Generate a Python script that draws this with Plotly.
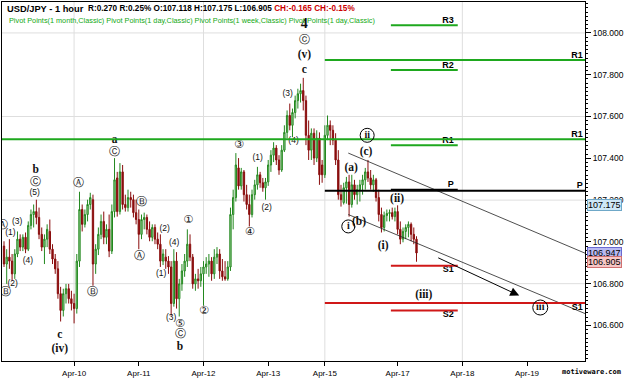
import plotly.graph_objects as go

# ---------------- data ----------------
OPEN = [106.980,106.894,106.927,106.908,106.847,106.942,107.013,106.975,107.022,106.965,
        107.079,107.131,107.145,107.117,107.036,106.975,107.013,107.050,106.965,106.918,
        106.871,106.752,106.672,106.752,106.776,106.728,106.705,106.681,106.908,107.155,
        107.084,107.131,107.179,107.202,106.894,106.965,107.036,107.098,107.022,107.060,
        106.956,107.145,107.306,107.145,107.335,107.179,107.164,107.212,107.202,107.140,
        107.107,107.036,107.107,107.117,107.060,107.022,107.069,107.013,106.989,106.908,
        106.927,106.908,106.880,106.705,106.908,106.728,106.799,106.861,106.908,106.989,
        106.927,106.799,106.823,106.814,106.847,106.880,106.894,106.908,106.847,106.927,
        106.942,106.861,106.833,106.823,106.880,107.131,107.212,107.354,107.268,107.335,
        107.226,107.179,107.131,107.226,107.273,107.321,107.283,107.259,107.287,107.368,
        107.415,107.449,107.392,107.344,107.439,107.524,107.605,107.558,107.619,107.676,
        107.709,107.724,107.676,107.510,107.439,107.520,107.401,107.496,107.368,107.321,
        107.510,107.558,107.534,107.487,107.392,107.226,107.188,107.259,107.287,107.179,
        107.273,107.226,107.250,107.273,107.297,107.335,107.306,107.273,107.297,107.212,
        107.131,107.069,107.126,107.136,107.140,107.121,107.145,107.060,107.013,107.050,
        107.069,107.084,107.036,107.013]
HIGH = [107.003,106.965,107.013,106.942,106.965,107.050,107.036,107.036,107.045,107.098,
        107.155,107.179,107.202,107.164,107.069,107.036,107.084,107.107,106.989,106.942,
        106.908,106.785,106.776,106.799,106.799,106.766,106.752,106.942,107.240,107.179,
        107.155,107.202,107.235,107.226,106.989,107.069,107.131,107.145,107.084,107.131,
        107.179,107.401,107.335,107.377,107.368,107.226,107.250,107.240,107.226,107.202,
        107.155,107.131,107.140,107.131,107.098,107.084,107.084,107.045,107.036,106.965,
        106.965,106.932,106.908,106.965,106.951,106.823,106.894,106.942,107.060,107.036,
        106.942,106.847,106.871,106.880,106.908,106.927,106.942,106.927,106.965,106.975,
        106.965,106.918,106.908,106.908,107.164,107.250,107.425,107.401,107.354,107.344,
        107.273,107.226,107.250,107.297,107.359,107.335,107.306,107.306,107.392,107.439,
        107.477,107.463,107.415,107.463,107.558,107.629,107.662,107.638,107.700,107.733,
        107.757,107.785,107.700,107.581,107.543,107.543,107.534,107.524,107.392,107.558,
        107.605,107.581,107.558,107.520,107.439,107.273,107.283,107.311,107.321,107.321,
        107.297,107.273,107.297,107.321,107.354,107.392,107.344,107.321,107.306,107.250,
        107.164,107.145,107.155,107.155,107.164,107.164,107.175,107.098,107.069,107.084,
        107.098,107.093,107.069,107.027]
LOW = [106.880,106.799,106.871,106.814,106.823,106.927,106.956,106.956,106.946,106.956,
       107.060,107.069,107.084,107.013,106.956,106.894,106.975,106.942,106.894,106.847,
       106.728,106.619,106.643,106.705,106.705,106.672,106.610,106.657,106.880,107.050,
       107.069,107.098,107.155,106.790,106.847,106.937,107.013,106.989,106.989,106.927,
       106.942,107.117,107.121,107.131,107.155,107.145,107.145,107.164,107.117,107.084,
       106.965,107.013,107.060,107.036,107.003,107.003,106.989,106.965,106.880,106.889,
       106.871,106.847,106.647,106.690,106.681,106.643,106.766,106.833,106.880,106.908,
       106.776,106.766,106.776,106.785,106.695,106.847,106.833,106.814,106.823,106.894,
       106.823,106.814,106.814,106.814,106.861,107.060,107.193,107.250,107.250,107.193,
       107.155,107.074,107.117,107.202,107.250,107.259,107.240,107.202,107.268,107.335,
       107.382,107.368,107.321,107.335,107.430,107.496,107.534,107.501,107.591,107.638,
       107.667,107.629,107.463,107.392,107.392,107.368,107.382,107.273,107.283,107.306,
       107.487,107.463,107.463,107.368,107.202,107.169,107.179,107.183,107.121,107.164,
       107.202,107.179,107.193,107.226,107.250,107.287,107.250,107.240,107.193,107.098,
       107.045,107.050,107.098,107.098,107.107,107.098,107.036,106.989,106.998,107.013,
       107.022,107.003,106.989,106.905]
CLOSE = [106.894,106.927,106.908,106.847,106.942,107.013,106.975,107.022,106.965,107.079,
         107.131,107.145,107.117,107.036,106.975,107.013,107.060,106.965,106.918,106.871,
         106.752,106.672,106.752,106.776,106.728,106.705,106.681,106.908,107.155,107.084,
         107.131,107.179,107.212,106.894,106.965,107.036,107.098,107.022,107.060,106.956,
         107.145,107.297,107.145,107.335,107.179,107.164,107.212,107.202,107.140,107.107,
         107.036,107.107,107.117,107.060,107.022,107.069,107.013,106.989,106.908,106.942,
         106.908,106.880,106.705,106.908,106.728,106.799,106.861,106.908,106.989,106.927,
         106.799,106.823,106.814,106.847,106.880,106.894,106.908,106.847,106.927,106.942,
         106.861,106.833,106.823,106.880,107.131,107.212,107.368,107.268,107.335,107.226,
         107.179,107.131,107.226,107.273,107.321,107.283,107.259,107.287,107.368,107.415,
         107.449,107.392,107.344,107.439,107.524,107.605,107.558,107.619,107.676,107.709,
         107.724,107.676,107.510,107.439,107.520,107.401,107.496,107.321,107.321,107.510,
         107.558,107.534,107.487,107.392,107.226,107.202,107.259,107.287,107.179,107.273,
         107.226,107.250,107.273,107.297,107.335,107.306,107.273,107.297,107.212,107.131,
         107.069,107.126,107.136,107.140,107.121,107.145,107.060,107.013,107.050,107.069,
         107.084,107.036,107.013,106.947]
BARS = list(range(len(CLOSE)))

TICK_POS = [26, 50, 74, 98, 119, 146, 170, 194]
TICK_LABELS = ["Apr-10", "Apr-11", "Apr-12", "Apr-13", "Apr-15", "Apr-17", "Apr-18", "Apr-19"]
GRID_X = [26, 74, 119, 170]
GRID_Y = [106.8, 107.2, 107.6, 108.0]
X_RANGE = [-0.74, 215.5]
Y_RANGE = [106.43, 108.148]

# pivot levels
MONTH_R1 = 107.491
WEEK_START = 119
WEEK_LEVELS = {"R1": 107.871, "P": 107.245, "S1": 106.708}
DAY_START, DAY_END = 143.5, 168.3
DAY_LEVELS = {"R3": 108.037, "R2": 107.823, "R1": 107.462, "P": 107.250, "S1": 106.886, "S2": 106.672}

# trend channel + arrow
UPPER_LINE = ([127.7, 215.5], [107.425, 106.946])
LOWER_LINE = ([127.7, 215.5], [107.131, 106.657])
ARROW_TAIL = (160.5, 106.927)
ARROW_HEAD = (191.1, 106.743)

# wave labels
PAREN_LABELS = [("(1)", 2.4, 107.045), ("(2)", 3.2, 106.799), ("(3)", 4.9, 107.098),
                ("(4)", 8.9, 106.908), ("(5)", 11.4, 107.235), ("(2)", 59.6, 107.060),
                ("(4)", 63.1, 106.994), ("(1)", 58.3, 106.847), ("(3)", 62.0, 106.634),
                ("(1)", 94.1, 107.401), ("(2)", 97.4, 107.164), ("(3)", 105.2, 107.709),
                ("(4)", 107.4, 107.482)]
CIRCLED_LABELS = [("Ⓐ", -0.4, 107.080), ("Ⓑ", 0.7, 106.761), ("Ⓒ", 11.8, 107.287),
                  ("Ⓐ", 27.7, 107.283), ("Ⓑ", 32.8, 106.761), ("Ⓒ", 41.0, 107.430),
                  ("Ⓑ", 50.9, 107.188), ("Ⓐ", 50.2, 106.932), ("①", 68.3, 107.103),
                  ("⑤", 65.3, 106.605), ("Ⓒ", 65.3, 106.558), ("②", 74.2, 106.667),
                  ("③", 87.1, 107.463), ("④", 91.1, 107.045), ("ⓒ", 111.4, 107.965)]
SERIF_LABELS = [("b", 11.8, 107.344), ("c", 20.7, 106.553), ("(iv)", 20.7, 106.487),
                ("a", 41.0, 107.487), ("b", 65.3, 106.496), ("c", 111.4, 107.823),
                ("(v)", 111.4, 107.894), ("(c)", 134.3, 107.430), ("(a)", 128.8, 107.354),
                ("(b)", 131.7, 107.093), ("(ii)", 145.8, 107.207), ("(i)", 140.6, 106.979),
                ("(iii)", 155.7, 106.747)]
DEGREE_LABELS = [("4", 111.4, 108.041)]
ROMAN_CIRCLED = [("i", 127.7, 107.074, 6.5), ("ii", 134.7, 107.510, 7), ("iii", 198.9, 106.686, 7.5)]

TAGS = [("107.175", 107.175, "#cfe8f7", "#6fa8c8"),
        ("106.947", 106.947, "#b9b9f2", "#6a6ad0"),
        ("106.905", 106.905, "#f7c6c6", "#d07070")]

GREEN = "#1ea81e"
RED = "#d01818"
SANS = "Arial, Liberation Sans, sans-serif"
SERIF = "Times New Roman, Liberation Serif, serif"

fig = go.Figure()

fig.add_trace(go.Candlestick(
    x=BARS, open=OPEN, high=HIGH, low=LOW, close=CLOSE,
    increasing=dict(line=dict(color="#23881f", width=1), fillcolor="#a6d8a0"),
    decreasing=dict(line=dict(color="#8a0d0d", width=1), fillcolor="#8a0d0d"),
    whiskerwidth=0, hoverinfo="skip", showlegend=False))

shapes = []
for gx in GRID_X:
    shapes.append(dict(type="line", xref="x", yref="paper", x0=gx, x1=gx, y0=0, y1=1,
                       line=dict(color="#dedede", width=1), layer="below"))
for gy in GRID_Y:
    shapes.append(dict(type="line", xref="paper", yref="y", x0=0, x1=1, y0=gy, y1=gy,
                       line=dict(color="#dedede", width=1), layer="below"))

def hline(x0, x1, y, color):
    shapes.append(dict(type="line", xref="x", yref="y", x0=x0, x1=x1, y0=y, y1=y,
                       line=dict(color=color, width=2)))

hline(X_RANGE[0], X_RANGE[1], MONTH_R1, GREEN)
wcol = {"R1": GREEN, "P": "#000000", "S1": RED}
for k, v in WEEK_LEVELS.items():
    hline(WEEK_START, X_RANGE[1], v, wcol[k])
dcol = {"R3": GREEN, "R2": GREEN, "R1": GREEN, "P": "#000000", "S1": RED, "S2": RED}
for k, v in DAY_LEVELS.items():
    hline(DAY_START, DAY_END, v, dcol[k])

for txt, x, y, r in ROMAN_CIRCLED:
    shapes.append(dict(type="circle", xref="x", yref="y", xsizemode="pixel", ysizemode="pixel",
                       xanchor=x, yanchor=y, x0=-r, x1=r, y0=-r, y1=r,
                       line=dict(color="#000000", width=1), fillcolor="rgba(0,0,0,0)"))

# trend channel
for xs, ys in (UPPER_LINE, LOWER_LINE):
    fig.add_trace(go.Scatter(x=xs, y=ys, mode="lines", line=dict(color="#222222", width=0.8),
                             hoverinfo="skip", showlegend=False))

# pivot labels
def pivot_text(xs, ys, texts, pos):
    fig.add_trace(go.Scatter(x=xs, y=ys, text=texts, mode="text", textposition=pos,
                             textfont=dict(family=SANS, size=9, color="#000000"),
                             hoverinfo="skip", showlegend=False))

up_d = [k for k in DAY_LEVELS if not k.startswith("S")]
dn_d = [k for k in DAY_LEVELS if k.startswith("S")]
pivot_text([DAY_END - 1.5] * len(up_d), [DAY_LEVELS[k] for k in up_d], ["<b>%s</b>" % k for k in up_d], "top left")
pivot_text([DAY_END - 1.5] * len(dn_d), [DAY_LEVELS[k] for k in dn_d], ["<b>%s</b>" % k for k in dn_d], "bottom left")
pivot_text([X_RANGE[1] - 0.8] * 3, [WEEK_LEVELS["R1"], MONTH_R1, WEEK_LEVELS["P"]],
           ["<b>R1</b>", "<b>R1</b>", "<b>P</b>"], "top left")
pivot_text([X_RANGE[1] - 0.8], [WEEK_LEVELS["S1"]], ["<b>S1</b>"], "bottom left")

def labels(items, family, size, bold=False):
    fig.add_trace(go.Scatter(
        x=[it[1] for it in items], y=[it[2] for it in items],
        text=[("<b>%s</b>" % it[0]) if bold else it[0] for it in items],
        mode="text", textposition="middle center",
        textfont=dict(family=family, size=size, color="#111111"),
        hoverinfo="skip", showlegend=False))

labels(PAREN_LABELS, SANS, 8.5)
labels(CIRCLED_LABELS, "DejaVu Sans, sans-serif", 11)
labels(SERIF_LABELS, SERIF, 11.5, bold=True)
labels(DEGREE_LABELS, SERIF, 14, bold=True)
labels([(t, x, y) for t, x, y, r in ROMAN_CIRCLED], SERIF, 10, bold=True)

annotations = [
    dict(x=ARROW_HEAD[0], y=ARROW_HEAD[1], ax=ARROW_TAIL[0], ay=ARROW_TAIL[1],
         xref="x", yref="y", axref="x", ayref="y", text="", showarrow=True,
         arrowhead=2, arrowsize=1.8, arrowwidth=1, arrowcolor="#000000"),
]
W, H = 585.0, 362.0
def px(xp, yp):
    return (xp - 1) / W, 1 - (yp - 1) / H

x, y = px(4, 8)
annotations.append(dict(x=x, y=y, xref="paper", yref="paper", xanchor="left", yanchor="middle",
                        showarrow=False, text="<b>USD/JPY - 1 hour</b>",
                        font=dict(family=SANS, size=9.3, color="#000000")))
x, y = px(85, 8)
annotations.append(dict(x=x, y=y, xref="paper", yref="paper", xanchor="left", yanchor="middle",
                        showarrow=False,
                        text="<b>R:0.270 R:0.25% O:107.118 H:107.175 L:106.905 </b><b><span style='color:#cc0000'>CH:-0.165 CH:-0.15%</span></b>",
                        font=dict(family=SANS, size=8.2, color="#000000")))
x, y = px(6, 20)
annotations.append(dict(x=x, y=y, xref="paper", yref="paper", xanchor="left", yanchor="middle",
                        showarrow=False,
                        text="Pivot Points(1 month,Classic) Pivot Points(1 day,Classic) Pivot Points(1 week,Classic) Pivot Points(1 day,Classic)",
                        font=dict(family=SANS, size=7.3, color="#13a813")))
annotations.append(dict(x=1.065, y=-0.03, xref="paper", yref="paper", xanchor="right", yanchor="middle",
                        showarrow=False, text="<b>motiveware.com</b>",
                        font=dict(family="DejaVu Sans Mono, monospace", size=7, color="#000000")))
for txt, val, bg, bd in TAGS:
    annotations.append(dict(x=1, y=val, xref="paper", yref="y", xanchor="left", yanchor="middle",
                            xshift=2, showarrow=False, text=txt, bgcolor=bg, bordercolor=bd,
                            borderwidth=1, borderpad=0,
                            font=dict(family=SANS, size=9, color="#000000")))

fig.update_layout(
    width=625, height=379,
    margin=dict(l=1, r=39, t=1, b=16),
    paper_bgcolor="white", plot_bgcolor="white",
    shapes=shapes, annotations=annotations, showlegend=False,
    xaxis=dict(range=X_RANGE, tickvals=TICK_POS, ticktext=TICK_LABELS, showgrid=False,
               zeroline=False, ticks="outside", ticklen=4, tickcolor="#000",
               showline=True, linecolor="#000", linewidth=1, mirror=True,
               rangeslider=dict(visible=False),
               tickfont=dict(family=SANS, size=8, color="#000")),
    yaxis=dict(range=Y_RANGE, side="right", dtick=0.2, tick0=106.6, tickformat=".3f",
               showgrid=False, zeroline=False, ticks="outside", ticklen=5, tickcolor="#000",
               showline=True, linecolor="#000", linewidth=1, mirror=True,
               minor=dict(dtick=0.02, ticks="outside", ticklen=2, tickcolor="#000"),
               tickfont=dict(family=SANS, size=8.5, color="#000")),
)

fig.write_html("out.html")
